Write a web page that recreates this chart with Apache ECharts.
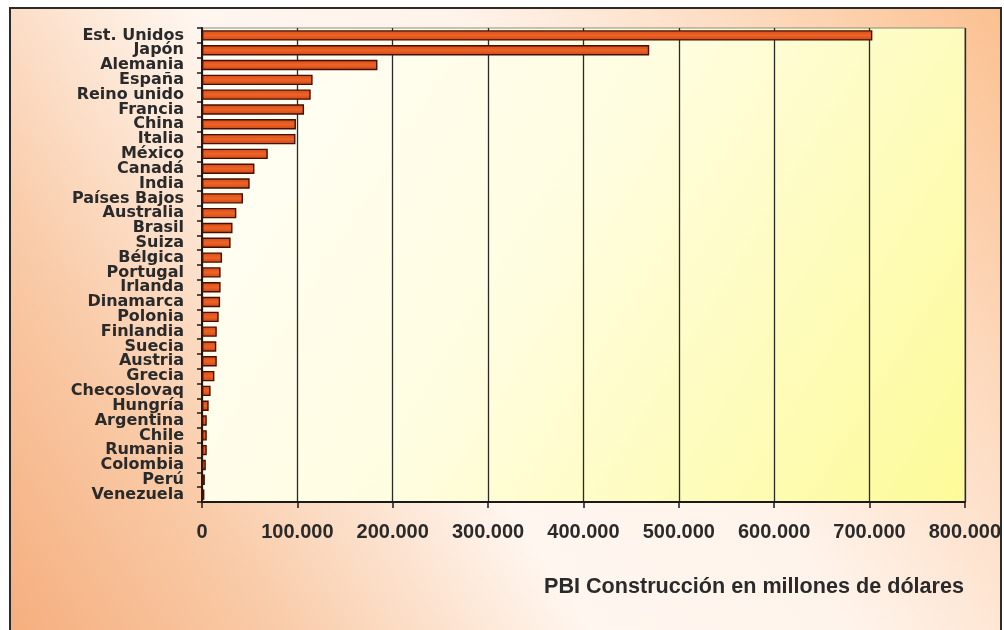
<!DOCTYPE html>
<html>
<head>
<meta charset="utf-8">
<script src="https://cdn.jsdelivr.net/npm/echarts@6/dist/echarts.min.js"></script>
<style>
html,body{margin:0;padding:0;background:#fff;}
#chart{width:1004px;height:630px;}
</style>
</head>
<body>
<div id="chart"></div>
<script>
const categories = ["Est. Unidos","Japón","Alemania","España","Reino unido","Francia","China","Italia","México","Canadá","India","Países Bajos","Australia","Brasil","Suiza","Bélgica","Portugal","Irlanda","Dinamarca","Polonia","Finlandia","Suecia","Austria","Grecia","Checoslovaq","Hungría","Argentina","Chile","Rumania","Colombia","Perú","Venezuela"];
const values = [703000,469000,184000,116000,114000,107000,98500,98000,69000,55000,50000,43000,36000,32000,30000,21000,19500,19500,19000,17500,15500,15000,15500,13000,9000,7000,5000,5000,5000,4000,3000,2500];
const xTicks = [0,100000,200000,300000,400000,500000,600000,700000,800000];
const axisTitle = "PBI Construcción en millones de dólares";

function fmt(v){ return String(v).replace(/\B(?=(\d{3})+(?!\d))/g, '.'); }

const chart = echarts.init(document.getElementById('chart'), null, {renderer:'canvas'});
chart.setOption({
  animation:false,
  backgroundColor:'transparent',
  graphic:[
    {type:'rect', z:-10, silent:true,
     shape:{x:10,y:8,width:991,height:640},
     style:{
       fill:{type:'linear',x:0,y:1,x2:1,y2:0,colorStops:[
         {offset:0,color:'#f5ad7c'},{offset:0.2,color:'#f9cba8'},{offset:0.42,color:'#fff6ef'},{offset:0.6,color:'#fff4ec'},{offset:0.8,color:'#fddcc2'},{offset:1,color:'#fbc090'}]},
       stroke:'#2e2a28', lineWidth:2}
    }
  ],
  title:{
    text:axisTitle, right:35, top:571,
    textStyle:{fontFamily:'Liberation Sans, Arial, sans-serif', fontWeight:'bold', fontSize:21.6, color:'#2a2a2a'}
  },
  grid:{
    left:202, right:38, top:28, bottom:128, containLabel:false, show:true,
    borderColor:'#8a8a7a', borderWidth:1,
    backgroundColor:{type:'linear',x:0,y:0,x2:1,y2:1,colorStops:[
      {offset:0,color:'#fffef9'},{offset:0.45,color:'#fffde0'},{offset:1,color:'#fdfb98'}]}
  },
  xAxis:{
    type:'value', min:0, max:800000, interval:100000,
    axisLine:{show:true, lineStyle:{color:'#1a1a1a', width:2}},
    axisTick:{show:true, length:6, lineStyle:{color:'#1a1a1a', width:1.5}},
    splitLine:{show:true, lineStyle:{color:'#2a2a2a', width:1.3}},
    axisLabel:{
      margin:20, fontFamily:'Liberation Sans, Arial, sans-serif', fontWeight:'bold', fontSize:20, color:'#2a2a2a',
      formatter:function(v){ return xTicks.indexOf(v) >= 0 ? fmt(v) : ''; }
    }
  },
  yAxis:{
    type:'category', data:categories, inverse:true,
    axisLine:{show:true, lineStyle:{color:'#1a1a1a', width:2}},
    axisTick:{show:true, length:5, lineStyle:{color:'#1a1a1a', width:1.5}},
    axisLabel:{
      margin:18, fontFamily:'DejaVu Sans, sans-serif', fontWeight:'bold', fontSize:16, color:'#2a2a2a',
      interval:0, lineHeight:15
    },
    splitLine:{show:false}
  },
  series:[{
    type:'bar', data:values, barCategoryGap:'30%',
    itemStyle:{
      color:{type:'linear',x:0,y:0,x2:0,y2:1,colorStops:[
        {offset:0,color:'#d24a18'},{offset:0.5,color:'#ee6426'},{offset:1,color:'#cc4616'}]},
      borderColor:'#451000', borderWidth:1.4
    }
  }]
});
</script>
</body>
</html>
